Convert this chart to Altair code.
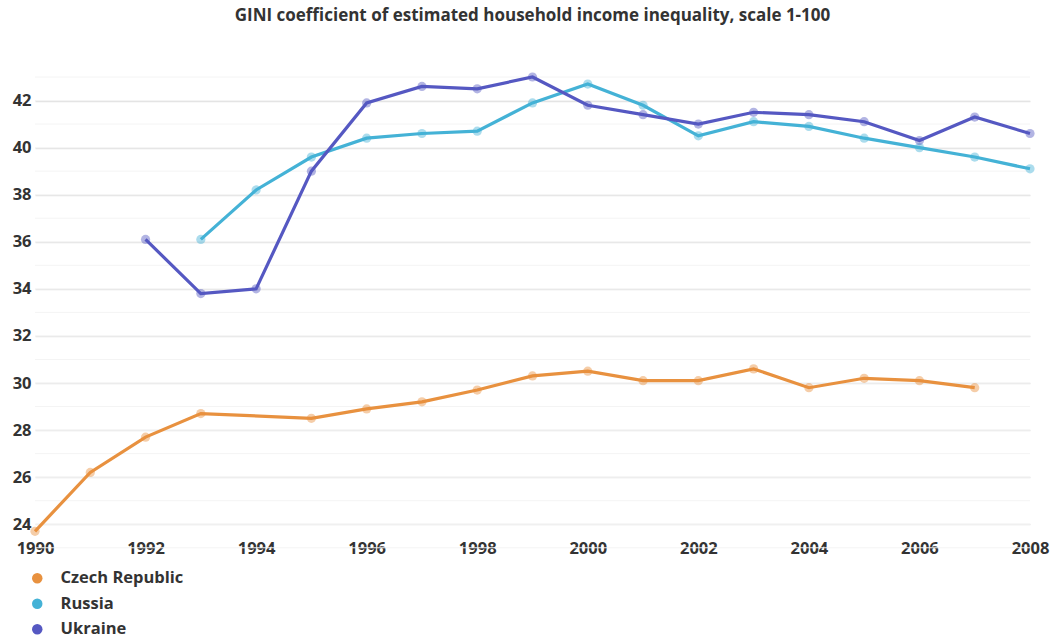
import altair as alt
import pandas as pd

# GINI coefficient of estimated household income inequality, scale 1-100
czech_years = [1990, 1991, 1992, 1993, 1995, 1996, 1997, 1998, 1999, 2000,
               2001, 2002, 2003, 2004, 2005, 2006, 2007]
czech_gini = [23.7, 26.2, 27.7, 28.7, 28.5, 28.9, 29.2, 29.7, 30.3, 30.5,
              30.1, 30.1, 30.6, 29.8, 30.2, 30.1, 29.8]

russia_years = list(range(1993, 2009))
russia_gini = [36.1, 38.2, 39.6, 40.4, 40.6, 40.7, 41.9, 42.7,
               41.8, 40.5, 41.1, 40.9, 40.4, 40.0, 39.6, 39.1]

ukraine_years = list(range(1992, 2009))
ukraine_gini = [36.1, 33.8, 34.0, 39.0, 41.9, 42.6, 42.5, 43.0, 41.8,
                41.4, 41.0, 41.5, 41.4, 41.1, 40.3, 41.3, 40.6]

countries = ["Czech Republic", "Russia", "Ukraine"]
colors = ["#e8913f", "#44b2d6", "#5558c2"]

x_ticks = list(range(1990, 2009, 2))
y_major = list(range(24, 43, 2))
y_minor = list(range(23, 44, 1))

rows = []
for name, years, vals in [("Czech Republic", czech_years, czech_gini),
                          ("Russia", russia_years, russia_gini),
                          ("Ukraine", ukraine_years, ukraine_gini)]:
    for yr, v in zip(years, vals):
        rows.append({"country": name, "year": yr, "gini": v})
df = pd.DataFrame(rows)

FONT = "Open Sans"
LABEL_SIZE = 16.5
x_scale = alt.Scale(domain=[1990, 2008], nice=False)
y_scale = alt.Scale(domain=[23.5, 43], nice=False, zero=False)

y_axis = alt.Axis(
    values=y_major, grid=True, gridColor="#e4e4e4", gridWidth=1.5,
    domain=False, ticks=False,
    labelFont=FONT, labelFontSize=LABEL_SIZE, labelFontWeight="bold",
    labelColor="#333333", labelPadding=4,
)

color = alt.Color(
    "country:N",
    scale=alt.Scale(domain=countries, range=colors),
    legend=alt.Legend(
        title=None, orient="none", legendX=-6, legendY=493, direction="vertical",
        symbolType="circle", symbolSize=110, symbolStrokeWidth=0, symbolOpacity=1,
        labelFont=FONT, labelFontSize=LABEL_SIZE, labelFontWeight="bold",
        labelColor="#333333", rowPadding=8.5, labelOffset=15,
    ),
)

# faint gridlines at every unit, stronger ones at the labelled values
minor = alt.Chart(pd.DataFrame({"v": y_minor})).mark_rule(
    color="#f4f4f4", strokeWidth=1
).encode(y=alt.Y("v:Q", scale=y_scale, axis=y_axis, title=None))

lines = alt.Chart(df).mark_line(
    strokeWidth=3.2,
    point=alt.OverlayMarkDef(filled=True, size=85, opacity=0.45),
).encode(
    x=alt.X(
        "year:Q", scale=x_scale, title=None,
        axis=alt.Axis(
            values=x_ticks, format="d", grid=False, domain=False, ticks=False,
            labelFont=FONT, labelFontSize=LABEL_SIZE, labelFontWeight="bold",
            labelColor="#333333", labelPadding=4, labelFlush=False,
        ),
    ),
    y=alt.Y("gini:Q", scale=y_scale, title=None, axis=y_axis),
    color=color,
    order="year:Q",
)

chart = (
    alt.layer(minor, lines)
    .properties(
        width=995,
        height=459,
        autosize=alt.AutoSizeParams(type="none"),
        padding={"left": 35, "top": 77, "right": 25, "bottom": 105},
        title=alt.TitleParams(
            "GINI coefficient of estimated household income inequality, scale 1-100",
            font=FONT, fontSize=17, fontWeight="bold", color="#333333",
            anchor="middle", offset=46,
        ),
    )
    .configure_view(stroke=None)
)

chart.save("out.html", embed_options={"renderer": "svg", "actions": False})
